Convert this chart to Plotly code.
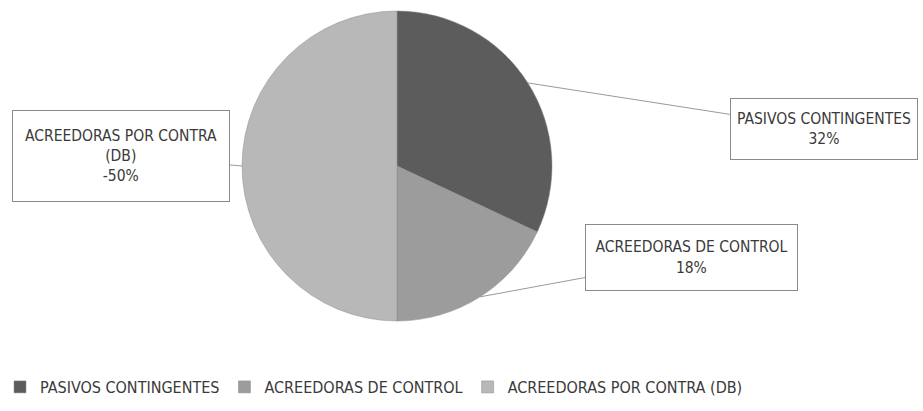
import math
import plotly.graph_objects as go

categories = ["PASIVOS CONTINGENTES", "ACREEDORAS DE CONTROL", "ACREEDORAS POR CONTRA (DB)"]
label_lines = ["PASIVOS CONTINGENTES", "ACREEDORAS DE CONTROL", "ACREEDORAS POR CONTRA<br>(DB)"]
percent_values = [32, 18, -50]
slice_colors = ["#5c5c5c", "#9c9c9c", "#b8b8b8"]

W, H = 923, 411
cx, cy, r = 397, 166, 155  # pie centre / radius in pixels (layout)

dom_x = [(cx - r) / W, (cx + r) / W]
dom_y = [(H - cy - r) / H, (H - cy + r) / H]

font_family = "Liberation Sans Narrow, DejaVu Sans Condensed, Arial Narrow, sans-serif"

fig = go.Figure(go.Pie(
    labels=categories,
    values=[abs(v) for v in percent_values],
    sort=False,
    direction="clockwise",
    rotation=0,
    textinfo="none",
    hoverinfo="label+percent",
    marker=dict(colors=slice_colors, line=dict(color="#8a8a8a", width=0.5)),
    domain=dict(x=dom_x, y=dom_y),
))

# label boxes: centre positions (pixels) and inner box sizes
box_centres = [(824, 129), (691, 258), (121, 156)]
box_sizes = [(178, 52), (203, 57), (208, 82)]

total = sum(abs(v) for v in percent_values)
cum = 0
annotations = []
for i, v in enumerate(percent_values):
    mid = (cum + abs(v) / 2) / total * 2 * math.pi
    cum += abs(v)
    px = cx + r * math.sin(mid)
    py = cy - r * math.cos(mid)
    bx, by = box_centres[i]
    annotations.append(dict(
        x=px / W, y=(H - py) / H, xref="paper", yref="paper",
        ax=bx - px, ay=by - py, axref="pixel", ayref="pixel",
        text=f"{label_lines[i]}<br>{v}%",
        showarrow=True, arrowhead=0, arrowwidth=1, arrowcolor="#9a9a9a",
        bordercolor="#8a8a8a", borderwidth=1, borderpad=4,
        bgcolor="white",
        width=box_sizes[i][0], height=box_sizes[i][1],
        font=dict(family=font_family, size=15.5, color="#3a3a3a"),
        align="center",
    ))

fig.update_layout(
    width=W, height=H,
    margin=dict(l=0, r=0, t=0, b=0),
    paper_bgcolor="white",
    plot_bgcolor="white",
    showlegend=True,
    legend=dict(
        orientation="h", x=0, y=(H - 387) / H, xanchor="left", yanchor="middle",
        font=dict(family=font_family, size=16, color="#3a3a3a"),
        itemwidth=30,
        traceorder="normal",
    ),
    annotations=annotations,
)

fig.write_html("out.html", config={"displayModeBar": False},
               post_script="document.body.style.margin='0px';")
